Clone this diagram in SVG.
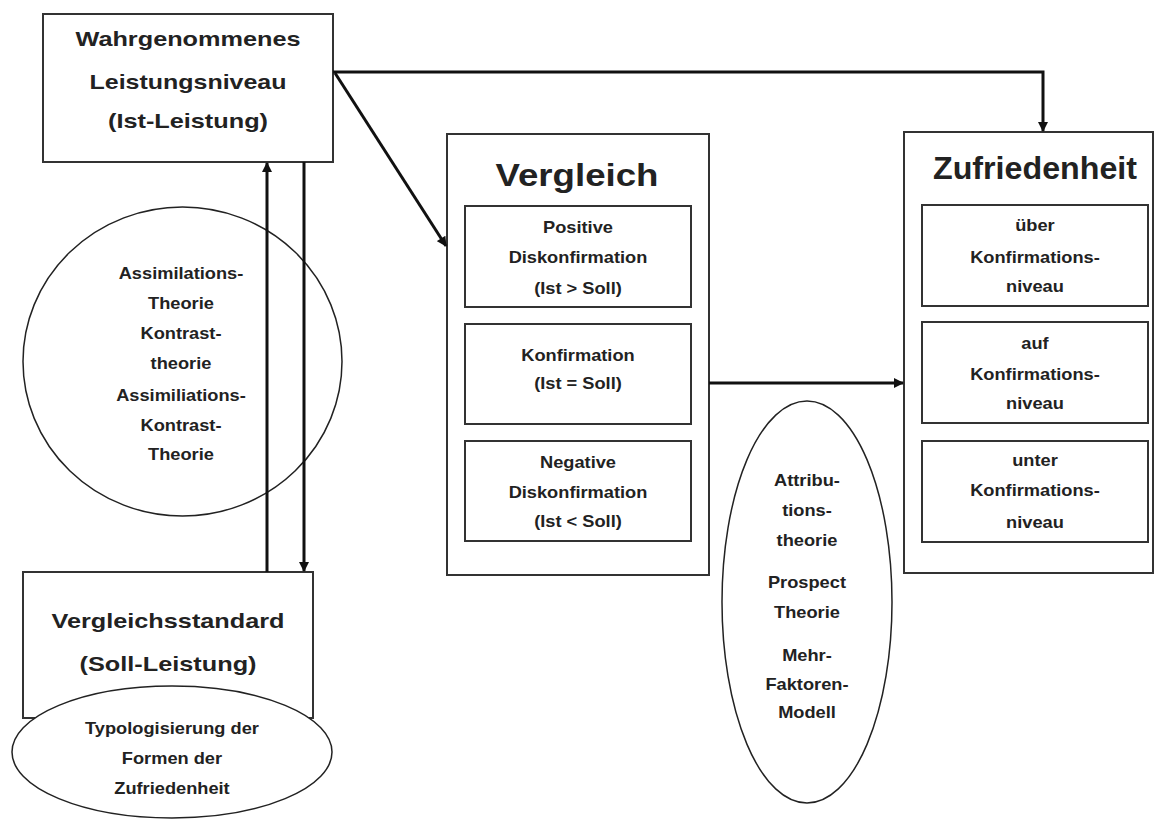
<svg xmlns="http://www.w3.org/2000/svg" width="1158" height="820" viewBox="0 0 1158 820">
  <defs>
    <marker id="arrow" viewBox="0 0 10 10" refX="9" refY="5" markerWidth="12" markerHeight="10" markerUnits="userSpaceOnUse" orient="auto">
      <path d="M0,0 L10,5 L0,10 z" fill="#111"/>
    </marker>
    <style>
      .box { fill: #fff; stroke: #333; stroke-width: 2; }
      .ell { fill: #fff; stroke: #222; stroke-width: 1.5; }
      .conn { fill: none; stroke: #111; stroke-width: 3; }
      text { font-family: "Liberation Sans", Arial, sans-serif; font-weight: bold; fill: #222; text-anchor: middle; }
      .big { font-size: 21px; }
      .title { font-size: 32px; }
      .small { font-size: 16px; transform-box: fill-box; transform-origin: center; transform: scaleX(1.14); }
    </style>
  </defs>
  <rect width="1158" height="820" fill="#fff"/>

  <!-- perceived performance -->
  <g id="ist">
    <rect class="box" x="43" y="14" width="290" height="148"/>
    <text class="big" x="188" y="46" textLength="225" lengthAdjust="spacingAndGlyphs">Wahrgenommenes</text>
    <text class="big" x="188" y="89" textLength="197" lengthAdjust="spacingAndGlyphs">Leistungsniveau</text>
    <text class="big" x="188" y="128" textLength="160" lengthAdjust="spacingAndGlyphs">(Ist-Leistung)</text>
  </g>

  <!-- theories circle -->
  <g id="theorien">
    <ellipse class="ell" cx="182.5" cy="361.5" rx="159.5" ry="154.5"/>
    <text class="small" x="181" y="279">Assimilations-</text>
    <text class="small" x="181" y="309">Theorie</text>
    <text class="small" x="181" y="339">Kontrast-</text>
    <text class="small" x="181" y="369">theorie</text>
    <text class="small" x="181" y="401">Assimiliations-</text>
    <text class="small" x="181" y="431">Kontrast-</text>
    <text class="small" x="181" y="460">Theorie</text>
  </g>

  <!-- comparison standard -->
  <g id="soll">
    <rect class="box" x="23" y="572" width="290" height="146"/>
    <text class="big" x="168" y="628" textLength="233" lengthAdjust="spacingAndGlyphs">Vergleichsstandard</text>
    <text class="big" x="168" y="671" textLength="177" lengthAdjust="spacingAndGlyphs">(Soll-Leistung)</text>
  </g>

  <!-- typology ellipse -->
  <g id="typologie">
    <ellipse class="ell" cx="172" cy="752" rx="160" ry="66"/>
    <text class="small" x="172" y="734">Typologisierung der</text>
    <text class="small" x="172" y="764">Formen der</text>
    <text class="small" x="172" y="794">Zufriedenheit</text>
  </g>

  <!-- comparison -->
  <g id="vergleich">
    <rect class="box" x="447" y="134" width="262" height="441"/>
    <text class="title" x="577" y="186" textLength="163" lengthAdjust="spacingAndGlyphs">Vergleich</text>
    <rect class="box" x="465" y="206" width="226" height="101"/>
    <text class="small" x="578" y="233">Positive</text>
    <text class="small" x="578" y="263">Diskonfirmation</text>
    <text class="small" x="578" y="294">(Ist &gt; Soll)</text>
    <rect class="box" x="465" y="324" width="226" height="100"/>
    <text class="small" x="578" y="361">Konfirmation</text>
    <text class="small" x="578" y="389">(Ist = Soll)</text>
    <rect class="box" x="465" y="441" width="226" height="100"/>
    <text class="small" x="578" y="468">Negative</text>
    <text class="small" x="578" y="498">Diskonfirmation</text>
    <text class="small" x="578" y="527">(Ist &lt; Soll)</text>
  </g>

  <!-- attribution ellipse -->
  <g id="attribution">
    <ellipse class="ell" cx="807" cy="602" rx="85" ry="201"/>
    <text class="small" x="807" y="486">Attribu-</text>
    <text class="small" x="807" y="516">tions-</text>
    <text class="small" x="807" y="546">theorie</text>
    <text class="small" x="807" y="588">Prospect</text>
    <text class="small" x="807" y="618">Theorie</text>
    <text class="small" x="807" y="661">Mehr-</text>
    <text class="small" x="807" y="690">Faktoren-</text>
    <text class="small" x="807" y="718">Modell</text>
  </g>

  <!-- satisfaction -->
  <g id="zufriedenheit">
    <rect class="box" x="904" y="132" width="249" height="441"/>
    <text class="title" x="1035" y="179" textLength="204" lengthAdjust="spacingAndGlyphs">Zufriedenheit</text>
    <rect class="box" x="922" y="205" width="226" height="101"/>
    <text class="small" x="1035" y="231">über</text>
    <text class="small" x="1035" y="263">Konfirmations-</text>
    <text class="small" x="1035" y="292">niveau</text>
    <rect class="box" x="922" y="322" width="226" height="101"/>
    <text class="small" x="1035" y="349">auf</text>
    <text class="small" x="1035" y="380">Konfirmations-</text>
    <text class="small" x="1035" y="409">niveau</text>
    <rect class="box" x="922" y="441" width="226" height="101"/>
    <text class="small" x="1035" y="466">unter</text>
    <text class="small" x="1035" y="496">Konfirmations-</text>
    <text class="small" x="1035" y="528">niveau</text>
  </g>

  <!-- connectors -->
  <g id="connectors">
    <path class="conn" d="M333,72 L1043,72 L1043,131" marker-end="url(#arrow)"/>
    <path class="conn" d="M335,73 L446,246" marker-end="url(#arrow)"/>
    <path class="conn" d="M267,572 L267,163" marker-end="url(#arrow)"/>
    <path class="conn" d="M304,162 L304,571" marker-end="url(#arrow)"/>
    <path class="conn" d="M709,383 L903,383" marker-end="url(#arrow)"/>
  </g>
</svg>
